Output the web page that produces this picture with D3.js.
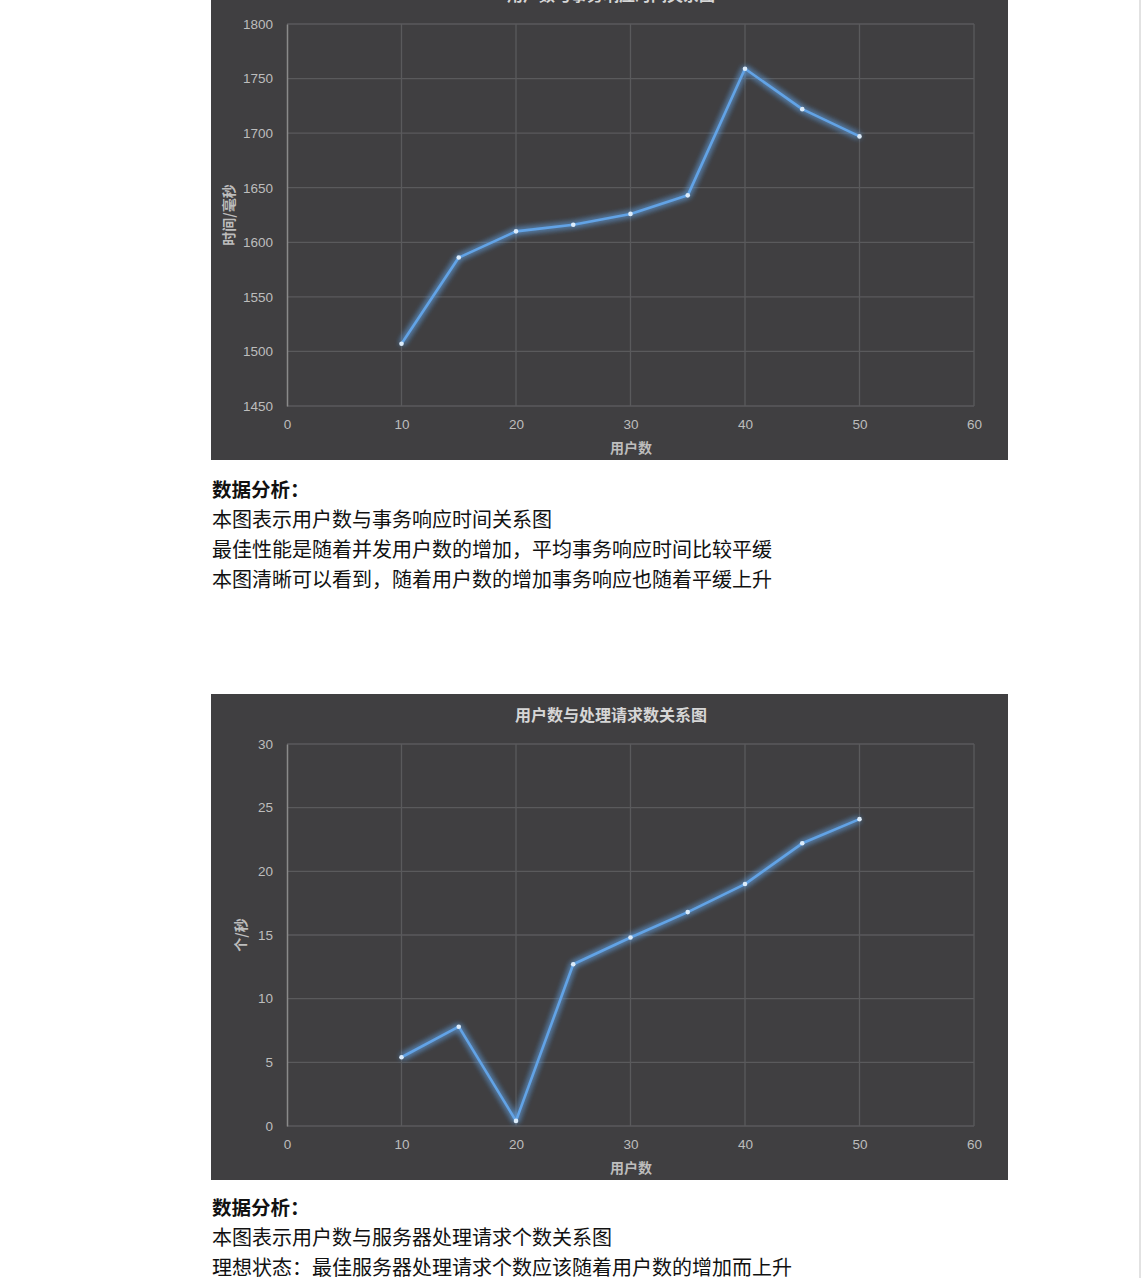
<!DOCTYPE html>
<html>
<head>
<meta charset="utf-8">
<script src="https://cdn.jsdelivr.net/npm/d3@7"></script>
<style>
  html, body { margin: 0; padding: 0; background: #fff; }
  svg { display: block; }
</style>
</head>
<body>
<svg id="page" width="1142" height="1278"></svg>
<script>
// data
const users = [10, 15, 20, 25, 30, 35, 40, 45, 50];
const responseTime = [1507, 1586, 1610, 1616, 1626, 1643, 1759, 1722, 1697];
const requestsPerSec = [5.4, 7.8, 0.4, 12.7, 14.8, 16.8, 19.0, 22.2, 24.1];

const xTicks = [0, 10, 20, 30, 40, 50, 60];
const timeTicks = [1450, 1500, 1550, 1600, 1650, 1700, 1750, 1800];
const rateTicks = [0, 5, 10, 15, 20, 25, 30];

const notes1 = [
    '本图表示用户数与事务响应时间关系图',
    '最佳性能是随着并发用户数的增加，平均事务响应时间比较平缓',
    '本图清晰可以看到，随着用户数的增加事务响应也随着平缓上升',
];
const notes2 = [
    '本图表示用户数与服务器处理请求个数关系图',
    '理想状态：最佳服务器处理请求个数应该随着用户数的增加而上升',
];

const svg = d3.select('#page');
const cjk = '"Noto Sans CJK SC", "Noto Sans", sans-serif';
const tickFont = '"Liberation Sans Narrow", "Liberation Sans", sans-serif';

// glow filter for the line
const defs = svg.append('defs');
const glow = defs.append('filter').attr('id', 'glow')
    .attr('x', '-10%').attr('y', '-10%').attr('width', '120%').attr('height', '120%');
glow.append('feGaussianBlur').attr('in', 'SourceGraphic').attr('stdDeviation', 3).attr('result', 'blur');
const merge = glow.append('feMerge');
merge.append('feMergeNode').attr('in', 'blur');
merge.append('feMergeNode').attr('in', 'blur');
merge.append('feMergeNode').attr('in', 'SourceGraphic');

// right edge line of the page
svg.append('line')
    .attr('x1', 1140).attr('x2', 1140).attr('y1', 0).attr('y2', 1278)
    .attr('stroke', '#e2e2e2').attr('stroke-width', 2);

function drawChart(top, title, yLabel, values, yTicks) {
    const panel = { x: 211, y: top, w: 797, h: 486 };
    const plot = { left: 287, right: 974, top: top + 50, bottom: top + 432 };

    const g = svg.append('g');
    g.append('rect')
        .attr('x', panel.x).attr('y', panel.y)
        .attr('width', panel.w).attr('height', panel.h)
        .attr('fill', '#403f41');

    const x = d3.scaleLinear().domain([0, 60]).range([plot.left, plot.right]);
    const y = d3.scaleLinear()
        .domain([yTicks[0], yTicks[yTicks.length - 1]])
        .range([plot.bottom, plot.top]);

    // grid
    g.append('g').selectAll('line').data(yTicks).enter().append('line')
        .attr('x1', plot.left).attr('x2', plot.right)
        .attr('y1', d => y(d)).attr('y2', d => y(d))
        .attr('stroke', '#5a5a5c').attr('stroke-width', 1.3);
    g.append('g').selectAll('line').data(xTicks.slice(1)).enter().append('line')
        .attr('x1', d => x(d)).attr('x2', d => x(d))
        .attr('y1', plot.top).attr('y2', plot.bottom)
        .attr('stroke', '#5a5a5c').attr('stroke-width', 1.3);

    // axes
    const yAxis = g.append('g')
        .attr('transform', `translate(${plot.left},0)`)
        .call(d3.axisLeft(y).tickValues(yTicks).tickFormat(d3.format('d')).tickSize(0).tickPadding(14));
    yAxis.select('.domain').attr('stroke', '#8a8a8a').attr('stroke-width', 1.5);
    yAxis.selectAll('text')
        .attr('fill', '#bdbdbd').style('font-family', tickFont).style('font-size', '13.5px');

    const xAxis = g.append('g')
        .attr('transform', `translate(0,${plot.bottom})`)
        .call(d3.axisBottom(x).tickValues(xTicks).tickFormat(d3.format('d')).tickSize(0).tickPadding(13));
    xAxis.select('.domain').remove();
    xAxis.selectAll('text')
        .attr('fill', '#bdbdbd').style('font-family', tickFont).style('font-size', '13.5px');

    // titles
    g.append('text')
        .attr('x', 611).attr('y', top + 27)
        .attr('text-anchor', 'middle')
        .attr('fill', '#d6d6d6')
        .style('font-family', cjk).style('font-size', '16px').style('font-weight', 'bold')
        .text(title);
    g.append('text')
        .attr('x', 631).attr('y', top + 479)
        .attr('text-anchor', 'middle')
        .attr('fill', '#bdbdbd')
        .style('font-family', cjk).style('font-size', '14px').style('font-weight', 'bold')
        .text('用户数');
    g.append('text')
        .attr('transform', `translate(${yLabel.x},${top + yLabel.dy}) rotate(-90)`)
        .attr('text-anchor', 'middle')
        .attr('fill', '#bdbdbd')
        .style('font-family', cjk).style('font-size', '14px').style('font-weight', 'bold')
        .text(yLabel.text);

    // series
    const pts = users.map((u, i) => [u, values[i]]);
    const line = d3.line().x(d => x(d[0])).y(d => y(d[1]));
    g.append('path')
        .datum(pts)
        .attr('d', line)
        .attr('fill', 'none')
        .attr('stroke', '#62a3e6')
        .attr('stroke-width', 2.6)
        .attr('stroke-linejoin', 'round')
        .attr('filter', 'url(#glow)');
    g.append('g').selectAll('circle').data(pts).enter().append('circle')
        .attr('cx', d => x(d[0])).attr('cy', d => y(d[1]))
        .attr('r', 2.3)
        .attr('fill', '#dcecfb');
}

function drawNotes(top, lines) {
    const g = svg.append('g').style('font-family', cjk).attr('fill', '#111');
    g.append('text')
        .attr('x', 212).attr('y', top)
        .attr('dominant-baseline', 'central')
        .style('font-size', '19.5px').style('font-weight', 'bold')
        .text('数据分析：');
    g.selectAll('text.line').data(lines).enter().append('text')
        .attr('class', 'line')
        .attr('x', 212).attr('y', (d, i) => top + 30 * (i + 1))
        .attr('dominant-baseline', 'central')
        .style('font-size', '20px')
        .text(d => d);
}

drawChart(-26, '用户数与事务响应时间关系图',
    { text: '时间/毫秒', x: 234, dy: 241 }, responseTime, timeTicks);
drawNotes(488, notes1);

drawChart(694, '用户数与处理请求数关系图',
    { text: '个/秒', x: 246, dy: 241 }, requestsPerSec, rateTicks);
drawNotes(1206, notes2);
</script>
</body>
</html>
